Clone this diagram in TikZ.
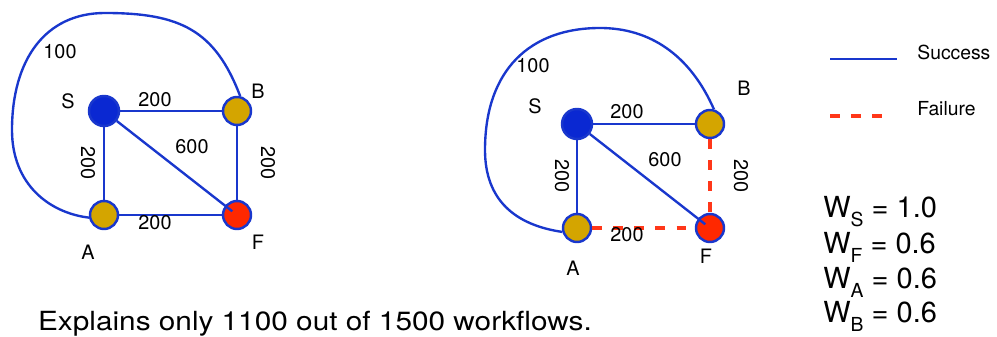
\documentclass[tikz,border=0pt]{standalone}
\usepackage{fontspec}
\setmainfont{TeX Gyre Heros}
\usepackage{graphicx}
\usepackage{tikz}
\usetikzlibrary{positioning}

\definecolor{edgeblue}{RGB}{25,55,205}
\definecolor{srcblue}{RGB}{10,40,210}
\definecolor{midgold}{RGB}{212,165,0}
\definecolor{endred}{RGB}{255,40,0}
\definecolor{failred}{RGB}{255,55,25}

\newcommand{\wline}[2]{W\raisebox{-0.55ex}{\fontsize{11}{11}\selectfont #1} = #2}

\begin{document}
\begin{tikzpicture}[
  x=0.02cm, y=-0.02cm,
  font=\fontsize{11.3}{13}\selectfont,
  src/.style={circle, draw=edgeblue, line width=1.4pt, fill=srcblue, minimum size=0.6cm, inner sep=0pt},
  mid/.style={circle, draw=edgeblue, line width=1.4pt, fill=midgold, minimum size=0.56cm, inner sep=0pt},
  sink/.style={circle, draw=edgeblue, line width=1.4pt, fill=endred, minimum size=0.56cm, inner sep=0pt},
  ok/.style={draw=edgeblue, line width=1.35pt},
  bad/.style={draw=failred, line width=1.8pt, dash pattern=on 5.5pt off 6.5pt},
  lbl/.style={inner sep=0pt},
  vlbl/.style={inner sep=0pt, rotate=-90},
  wtxt/.style={inner sep=0pt, anchor=base west, font=\fontsize{16.5}{18}\selectfont},
  legtxt/.style={inner sep=0pt, anchor=west, font=\fontsize{11}{13}\selectfont},
]
\useasboundingbox (0,0) rectangle (997,337);

% left graph: all runs succeed
\node[src]  (lS) at (104,111) {};
\node[mid]  (lB) at (237,111) {};
\node[mid]  (lA) at (104,215) {};
\node[sink] (lF) at (237,215) {};

\draw[ok] (lS) -- (lB);
\draw[ok] (lS) -- (lA);
\draw[ok, shorten >=0.12cm] (lS) -- (lF.center);
\draw[ok] (lB) -- (lF);
\draw[ok] (lA) -- (lF);
\draw[ok] (lA.190) .. controls (50,213) and (12,185) .. (12,130)
  .. controls (12,60) and (45,13) .. (105,13)
  .. controls (180,13) and (215,30) .. (lB.78);

\node[lbl] (lSlbl) at (68,101) {S};
\node[lbl] (lBlbl) at (258,91) {B};
\node[lbl] (lAlbl) at (88,252) {A};
\node[lbl] (lFlbl) at (258,242) {F};
\node[lbl] (lSB) at (155,100) {200};
\node[lbl] (lSF) at (192,147) {600};
\node[vlbl] (lSA) at (88,163) {200};
\node[vlbl] (lBF) at (268,163) {200};
\node[lbl] (lAF) at (155,223) {200};
\node[lbl] (lAB) at (60,52) {100};

% right graph: two edges fail
\node[src]  (rS) at (577,124) {};
\node[mid]  (rB) at (710,124) {};
\node[mid]  (rA) at (577,228) {};
\node[sink] (rF) at (710,228) {};

\draw[ok] (rS) -- (rB);
\draw[ok] (rS) -- (rA);
\draw[ok, shorten >=0.12cm] (rS) -- (rF.center);
\draw[bad] (rB) -- (rF);
\draw[bad] (rA) -- (rF);
\draw[ok] (rA.195) .. controls (515,225) and (485,200) .. (485,150)
  .. controls (485,70) and (530,28) .. (600,28)
  .. controls (650,28) and (690,55) .. (rB.75);

\node[lbl] (rSlbl) at (535,106) {S};
\node[lbl] (rBlbl) at (744,88) {B};
\node[lbl] (rAlbl) at (573,268) {A};
\node[lbl] (rFlbl) at (706,256) {F};
\node[lbl] (rSB) at (627,112) {200};
\node[lbl] (rSF) at (665,160) {600};
\node[vlbl] (rSA) at (562,176) {200};
\node[vlbl] (rBF) at (741,176) {200};
\node[lbl] (rAF) at (627,235) {200};
\node[lbl] (rAB) at (533,66) {100};

% legend
\coordinate (succA) at (830,59);
\coordinate (succB) at (897,59);
\coordinate (failA) at (830,116);
\coordinate (failB) at (890,116);
\draw[ok] (succA) -- (succB);
\draw[bad] (failA) -- (failB);
\node[legtxt] (succ) at (917,52) {Success};
\node[legtxt] (fail) at (917,109) {Failure};

% weights
\node[wtxt] (wS) at (823,218) {\wline{S}{1.0}};
\node[wtxt] (wF) at (823,254) {\wline{F}{0.6}};
\node[wtxt] (wA) at (823,289) {\wline{A}{0.6}};
\node[wtxt] (wB) at (823,323) {\wline{B}{0.6}};

\node[inner sep=0pt, anchor=base, font=\fontsize{15}{17}\selectfont] (note) at (315,331)
  {\scalebox{1.13}[1]{Explains only 1100 out of 1500 workflows.}};
\end{tikzpicture}
\end{document}
